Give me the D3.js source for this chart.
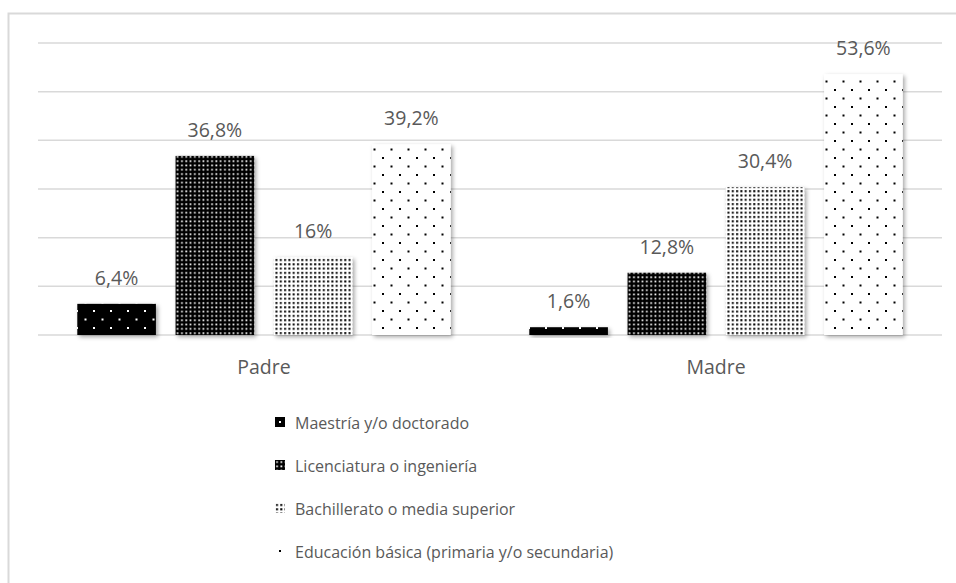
<!DOCTYPE html>
<html>
<head>
<meta charset="utf-8">
<script src="https://cdn.jsdelivr.net/npm/d3@7"></script>
<style>
  body { margin: 0; background: #fff; }
  text { font-family: "Open Sans", Lato, sans-serif; fill: #595959; }
</style>
</head>
<body>
<div id="chart"></div>
<script>
var categories = ["Padre", "Madre"];
var series = ["Maestría y/o doctorado", "Licenciatura o ingeniería", "Bachillerato o media superior", "Educación básica (primaria y/o secundaria)"];
var maestria = [6.4, 1.6];
var licenciatura = [36.8, 12.8];
var bachillerato = [16, 30.4];
var basica = [39.2, 53.6];
var yTicks = [0, 10, 20, 30, 40, 50, 60];

var values = [maestria, licenciatura, bachillerato, basica];
var patternIds = ["pMaestria", "pLic", "pBach", "pBasica"];

var W = 956, H = 583;
var plot = {left: 38, right: 942, top: 43, bottom: 335};

var svg = d3.select("#chart").append("svg")
  .attr("width", W)
  .attr("height", H);

var defs = svg.append("defs");

// drop shadow for the bars
var f = defs.append("filter").attr("id", "shadow")
  .attr("x", "-20%").attr("y", "-20%").attr("width", "150%").attr("height", "150%");
f.append("feDropShadow")
  .attr("dx", 2).attr("dy", 2).attr("stdDeviation", 2)
  .attr("flood-color", "#000").attr("flood-opacity", 0.35);

// patterns
// sparse dots, black background with white dots
var p1 = defs.append("pattern").attr("id", "pMaestria")
  .attr("patternUnits", "userSpaceOnUse").attr("width", 17).attr("height", 17);
p1.append("rect").attr("width", 17).attr("height", 17).attr("fill", "#000");
p1.append("rect").attr("x", 4).attr("y", 4).attr("width", 2).attr("height", 2).attr("fill", "#fff");
p1.append("rect").attr("x", 12.5).attr("y", 12.5).attr("width", 2).attr("height", 2).attr("fill", "#fff");

// dense white squares on black
var p2 = defs.append("pattern").attr("id", "pLic")
  .attr("patternUnits", "userSpaceOnUse").attr("width", 4.3).attr("height", 4.3);
p2.append("rect").attr("width", 4.3).attr("height", 4.3).attr("fill", "#000");
p2.append("rect").attr("x", 1.2).attr("y", 1.2).attr("width", 1.7).attr("height", 1.7).attr("fill", "#fff");

// black squares on white
var p3 = defs.append("pattern").attr("id", "pBach")
  .attr("patternUnits", "userSpaceOnUse").attr("width", 4.3).attr("height", 4.3);
p3.append("rect").attr("width", 4.3).attr("height", 4.3).attr("fill", "#fff");
p3.append("rect").attr("x", 1).attr("y", 1).attr("width", 2).attr("height", 2).attr("fill", "#000");

// sparse black dots on white
var p4 = defs.append("pattern").attr("id", "pBasica")
  .attr("patternUnits", "userSpaceOnUse").attr("width", 17).attr("height", 17);
p4.append("rect").attr("width", 17).attr("height", 17).attr("fill", "#fff");
p4.append("rect").attr("x", 4).attr("y", 4).attr("width", 2).attr("height", 2).attr("fill", "#000");
p4.append("rect").attr("x", 12.5).attr("y", 12.5).attr("width", 2).attr("height", 2).attr("fill", "#000");

// outer frame
svg.append("rect")
  .attr("x", 8.5).attr("y", 13.5)
  .attr("width", 970).attr("height", 600)
  .attr("fill", "none")
  .attr("stroke", "#d9d9d9")
  .attr("stroke-width", 2);

//SCALES//
var y = d3.scaleLinear().domain([0, 60]).range([plot.bottom, plot.top]);
var x0 = d3.scaleBand().domain(categories).range([plot.left, plot.right]);
var x1 = d3.scaleBand().domain(series).range([0, x0.bandwidth()])
  .paddingInner(0.2).paddingOuter(0.4);

// gridlines
svg.selectAll(".grid")
  .data(yTicks)
  .enter().append("line")
  .attr("class", "grid")
  .attr("x1", plot.left).attr("x2", plot.right)
  .attr("y1", function(d) { return y(d); })
  .attr("y2", function(d) { return y(d); })
  .attr("stroke", "#d9d9d9")
  .attr("stroke-width", 1.5);

var fmt = function(v) { return String(v).replace(".", ",") + "%"; };

var groups = svg.selectAll(".cat")
  .data(categories)
  .enter().append("g")
  .attr("class", "cat")
  .attr("transform", function(d) { return "translate(" + x0(d) + ",0)"; });

groups.each(function(cat, ci) {
  var g = d3.select(this);
  var rows = series.map(function(s, si) { return {s: s, si: si, v: values[si][ci]}; });

  g.selectAll("rect.bar")
    .data(rows)
    .enter().append("rect")
    .attr("class", "bar")
    .attr("x", function(d) { return x1(d.s); })
    .attr("y", function(d) { return y(d.v); })
    .attr("width", x1.bandwidth())
    .attr("height", function(d) { return y(0) - y(d.v); })
    .attr("fill", function(d) { return "url(#" + patternIds[d.si] + ")"; })
    .attr("filter", "url(#shadow)");

  g.selectAll("text.val")
    .data(rows)
    .enter().append("text")
    .attr("class", "val")
    .attr("x", function(d) { return x1(d.s) + x1.bandwidth() / 2; })
    .attr("y", function(d) { return y(d.v) - 19; })
    .attr("text-anchor", "middle")
    .style("font-size", "19.5px")
    .text(function(d) { return fmt(d.v); });

  g.append("text")
    .attr("x", x0.bandwidth() / 2)
    .attr("y", plot.bottom + 39)
    .attr("text-anchor", "middle")
    .style("font-size", "19.5px")
    .text(cat);
});

// legend
var legend = svg.selectAll(".legend")
  .data(series)
  .enter().append("g")
  .attr("class", "legend")
  .attr("transform", function(d, i) { return "translate(275," + (417 + i * 43) + ")"; });

legend.append("rect")
  .attr("width", 10).attr("height", 10)
  .attr("fill", function(d, i) { return "url(#" + patternIds[i] + ")"; });

legend.append("text")
  .attr("x", 20).attr("y", 11.5)
  .style("font-size", "16px")
  .text(function(d) { return d; });
</script>
</body>
</html>
